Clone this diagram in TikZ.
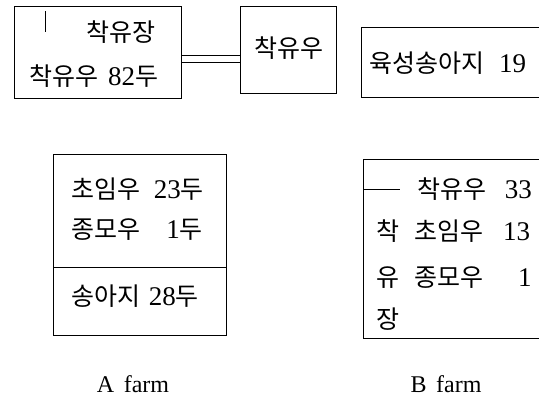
\documentclass[tikz,border=0pt]{standalone}
\usepackage{fontspec}
\setmainfont{Liberation Serif}
\newfontfamily\kr{Noto Sans CJK KR}
\newcommand\dg[1]{{\fontsize{27}{28}\selectfont #1}}
\begin{document}
\begin{tikzpicture}[x=1pt,y=-1pt,
  box/.style={draw,line width=1pt,anchor=north west,inner sep=0pt,minimum width=#1},
  txt/.style={anchor=west,inner sep=0pt,font=\fontsize{25}{28}\selectfont},
  lab/.style={anchor=center,inner sep=0pt,font=\fontsize{24}{28}\selectfont},
  ln/.style={line width=1pt}]
\useasboundingbox (0,0) rectangle (539,405);
% boxes
\node[box=167pt,minimum height=92pt] (b1) at (14,6) {};
\node[box=96pt,minimum height=87pt] (b2) at (240,6) {};
\node[box=200pt,minimum height=70pt] (b3) at (361,27) {};
\node[box=173pt,minimum height=181pt] (ba) at (53,154) {};
\node[box=200pt,minimum height=179pt] (bb) at (363,159) {};
% connector
\coordinate (dl) at (0,59);
\draw[line width=1pt,double distance=6.5pt] (b1.east |- dl) -- (b2.west |- dl);
% tick in box 1
\coordinate (tk1) at (45,11);
\coordinate (tk2) at (45,32);
\draw[ln] (tk1) -- (tk2);
% divider in A
\coordinate (dv) at (0,267);
\draw[ln] (ba.west |- dv) -- (ba.east |- dv);
% line in B
\coordinate (bl) at (400,189);
\draw[ln] (bb.west |- bl) -- (bl);
% texts box 1
\node[txt] (t1) at (86,32) {\kr 착유장};
\node[txt] (t2) at (29,76) {{\kr 착유우}\hspace{0.4em}\dg{82}{\kr 두}};
\node[txt] (t3) at (254,48) {\kr 착유우};
\node[txt] (t4) at (369,63) {{\kr 육성송아지}\hspace{0.6em}\dg{19}};
% A
\node[txt] (a1) at (71,189) {{\kr 초임우}\hspace{0.55em}\dg{23}{\kr 두}};
\node[txt] (a2) at (71,230) {{\kr 종모우}\hspace{1.05em}\dg{1}{\kr 두}};
\node[txt] (a3) at (71,296) {{\kr 송아지}\hspace{0.35em}\dg{28}{\kr 두}};
% B
\node[txt] (c1) at (417,189) {{\kr 착유우}\hspace{0.75em}\dg{33}};
\node[txt] (c2) at (376,231) {{\kr 착}\hspace{0.6em}{\kr 초임우}\hspace{0.8em}\dg{13}};
\node[txt] (c3) at (376,278) {{\kr 유}\hspace{0.6em}{\kr 종모우}\hspace{1.4em}\dg{1}};
\node[txt] (c4) at (376,319) {\kr 장};
% labels
\node[lab] (la) at (133,384) {A\hspace{0.4em}farm};
\node[lab] (lb) at (446,384) {B\hspace{0.4em}farm};
\end{tikzpicture}
\end{document}
